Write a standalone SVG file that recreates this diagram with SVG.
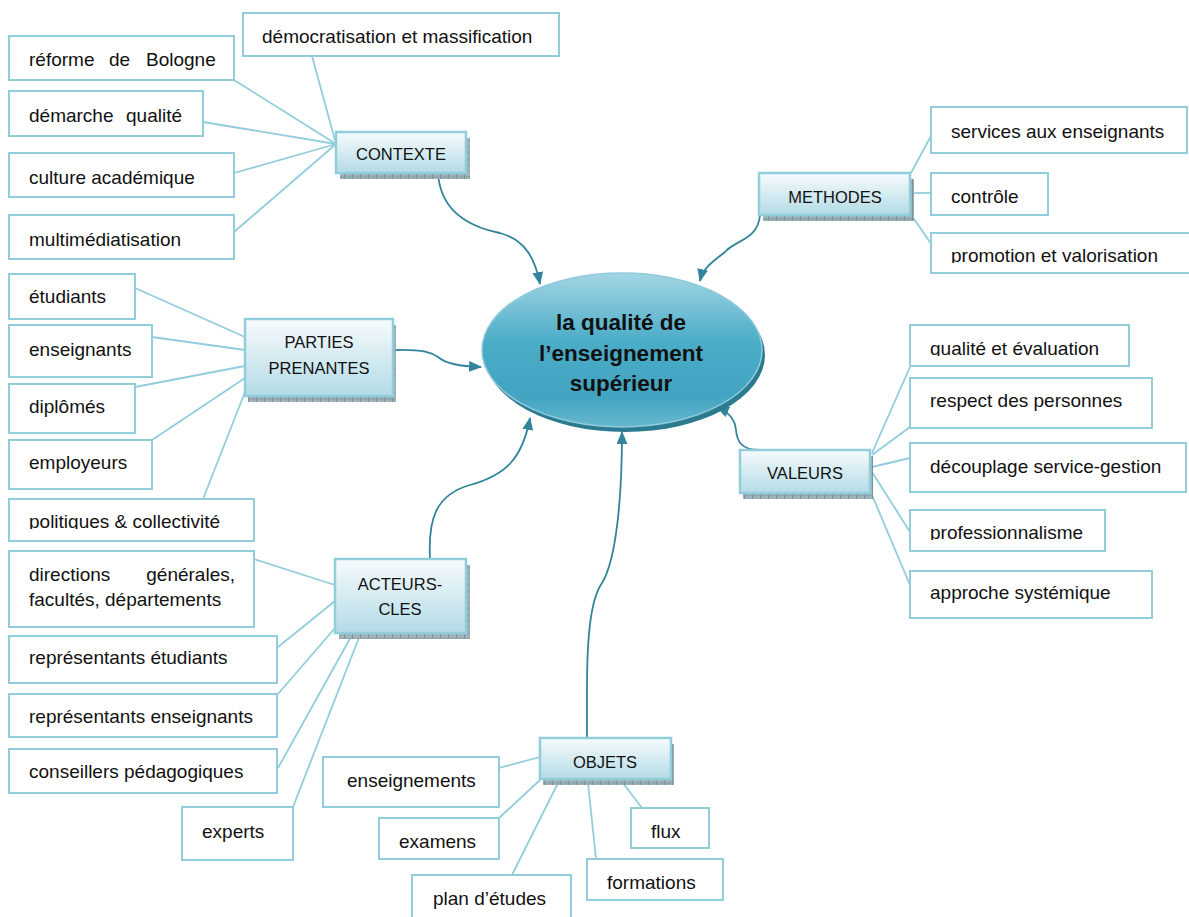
<svg xmlns="http://www.w3.org/2000/svg" width="1189" height="917" viewBox="0 0 1189 917">
<style>
.leaf rect{fill:#fff;stroke:#92cddc;stroke-width:2}
.leaf text,.cat text{font-family:"Liberation Sans",Arial,sans-serif;fill:#111}
.leaf text{font-size:19px}
.cat text{font-size:16.5px;text-anchor:middle}
.cat .box{fill:url(#catGrad);stroke:#92cddc;stroke-width:2.5}
.cat .sh{fill:url(#hatch)}
.links line{stroke:#92cddc;stroke-width:1.8}
.arrows path{fill:none;stroke:#31849b;stroke-width:1.8;marker-end:url(#ah)}
.center text{font-family:"Liberation Sans",Arial,sans-serif;font-size:22.5px;font-weight:bold;text-anchor:middle;fill:#111}
</style>
<defs>
<linearGradient id="catGrad" x1="0" y1="0" x2="0" y2="1">
<stop offset="0" stop-color="#f7fbfd"/><stop offset="1" stop-color="#b3dbe6"/>
</linearGradient>
<linearGradient id="ellGrad" x1="0" y1="0" x2="0" y2="1">
<stop offset="0" stop-color="#a3d5e4"/><stop offset="0.45" stop-color="#4aacc7"/><stop offset="0.8" stop-color="#42a4c0"/><stop offset="1" stop-color="#66b8cf"/>
</linearGradient>
<pattern id="hatch" width="8" height="6" patternUnits="userSpaceOnUse">
<rect width="8" height="6" fill="#9fb2ba"/><line x1="0" y1="0" x2="0" y2="6" stroke="#5d7a86" stroke-width="1.2"/><line x1="0" y1="3" x2="8" y2="3" stroke="#7d959f" stroke-width="0.8"/>
</pattern>
<marker id="ah" viewBox="0 0 12 10" refX="11" refY="5" markerWidth="13" markerHeight="11" orient="auto" markerUnits="userSpaceOnUse"><path d="M0,0 L12,5 L0,10 z" fill="#31849b"/></marker>
<clipPath id="c1"><rect x="0" y="0" width="1189" height="263"/></clipPath>
<clipPath id="c2"><rect x="0" y="0" width="1189" height="529"/></clipPath>
<clipPath id="c3"><rect x="0" y="0" width="1189" height="356"/></clipPath>
<clipPath id="c4"><rect x="0" y="0" width="1189" height="540"/></clipPath>
</defs>

<g id="connectors">
<g class="links">
<line x1="312" y1="56" x2="336" y2="144"/>
<line x1="234" y1="80" x2="336" y2="144"/>
<line x1="203" y1="122" x2="336" y2="144"/>
<line x1="234" y1="173" x2="336" y2="144"/>
<line x1="234" y1="232" x2="336" y2="144"/>
<line x1="911" y1="173" x2="932" y2="134"/>
<line x1="912" y1="193" x2="931" y2="193"/>
<line x1="912" y1="216" x2="932" y2="245"/>
<line x1="135" y1="288" x2="245" y2="337"/>
<line x1="152" y1="337" x2="245" y2="350"/>
<line x1="135" y1="387" x2="245" y2="366"/>
<line x1="152" y1="440" x2="245" y2="378"/>
<line x1="203" y1="499" x2="245" y2="392"/>
<line x1="254" y1="559" x2="335" y2="585"/>
<line x1="278" y1="647" x2="335" y2="601"/>
<line x1="278" y1="694" x2="335" y2="628"/>
<line x1="278" y1="768" x2="352" y2="635"/>
<line x1="293" y1="807" x2="360" y2="635"/>
<line x1="910" y1="367" x2="872" y2="453"/>
<line x1="910" y1="427" x2="872" y2="455"/>
<line x1="910" y1="458" x2="872" y2="467"/>
<line x1="910" y1="532" x2="872" y2="472"/>
<line x1="910" y1="585" x2="872" y2="495"/>
<line x1="499" y1="768" x2="540" y2="757"/>
<line x1="499" y1="818" x2="540" y2="780"/>
<line x1="512" y1="875" x2="558" y2="783"/>
<line x1="596" y1="859" x2="588" y2="783"/>
<line x1="642" y1="808" x2="623" y2="783"/>
</g>
<g class="arrows">
<path d="M438,173 C440,205 460,225 500,233 C525,240 535,258 540,284"/>
<path d="M760,215 C758,240 735,240 725,252 C712,262 703,268 700,281"/>
<path d="M393,350 C425,349 432,353 438,357 C446,364 460,366 481,367"/>
<path d="M430,559 C428,520 435,495 470,485 C505,475 522,460 530,418"/>
<path d="M587,738 L587,690 C587,640 590,600 602,583 C616,560 622,500 622,432"/>
<path d="M760,450 C740,450 737,440 736,430 C735,420 730,413 717,407"/>
</g>
</g>

<g id="center" class="center">
<ellipse cx="625" cy="355" rx="140" ry="77" fill="#2c7a90"/>
<ellipse cx="622" cy="350" rx="140" ry="77" fill="url(#ellGrad)" stroke="#8fcadb" stroke-width="1.5"/>
<text x="621" y="330">la qualité de</text>
<text x="621" y="361">l’enseignement</text>
<text x="621" y="391">supérieur</text>
</g>

<g id="contexte" class="cat"><rect class="sh" x="340" y="138" width="130" height="41"/><rect class="box" x="336" y="132" width="130" height="41"/><text x="401" y="160">CONTEXTE</text></g>
<g id="methodes" class="cat"><rect class="sh" x="763" y="179" width="151" height="42"/><rect class="box" x="759" y="173" width="151" height="42"/><text x="835" y="203">METHODES</text></g>
<g id="parties" class="cat"><rect class="sh" x="248" y="325" width="148" height="77"/><rect class="box" x="245" y="319" width="148" height="77"/><text x="319" y="348">PARTIES</text><text x="319" y="374">PRENANTES</text></g>
<g id="acteurs" class="cat"><rect class="sh" x="339" y="565" width="131" height="74"/><rect class="box" x="335" y="559" width="131" height="74"/><text x="400" y="590">ACTEURS-</text><text x="400" y="615">CLES</text></g>
<g id="valeurs" class="cat"><rect class="sh" x="743" y="456" width="130" height="43"/><rect class="box" x="740" y="450" width="130" height="43"/><text x="805" y="479">VALEURS</text></g>
<g id="objets" class="cat"><rect class="sh" x="543" y="744" width="131" height="41"/><rect class="box" x="540" y="738" width="131" height="41"/><text x="605" y="768">OBJETS</text></g>

<g id="democratisation" class="leaf"><rect x="243" y="13" width="316" height="43"/><text x="262" y="43">démocratisation et massification</text></g>
<g id="bologne" class="leaf"><rect x="9" y="36" width="225" height="44"/><text y="66"><tspan x="29">réforme</tspan><tspan x="109">de</tspan><tspan x="146">Bologne</tspan></text></g>
<g id="demarche" class="leaf"><rect x="9" y="91" width="194" height="45"/><text y="122"><tspan x="29">démarche</tspan><tspan x="126">qualité</tspan></text></g>
<g id="culture" class="leaf"><rect x="9" y="153" width="225" height="44"/><text x="29" y="184">culture académique</text></g>
<g id="multimedia" class="leaf"><rect x="9" y="215" width="225" height="44"/><text x="29" y="246">multimédiatisation</text></g>

<g id="services" class="leaf"><rect x="931" y="107" width="256" height="46"/><text x="951" y="138">services aux enseignants</text></g>
<g id="controle" class="leaf"><rect x="931" y="173" width="117" height="42"/><text x="951" y="203">contrôle</text></g>
<g id="promotion" class="leaf"><rect x="931" y="233" width="262" height="40"/><text x="951" y="262" clip-path="url(#c1)">promotion et valorisation</text></g>

<g id="etudiants" class="leaf"><rect x="9" y="274" width="126" height="45"/><text x="29" y="303">étudiants</text></g>
<g id="enseignants" class="leaf"><rect x="9" y="325" width="143" height="52"/><text x="29" y="356">enseignants</text></g>
<g id="diplomes" class="leaf"><rect x="9" y="384" width="126" height="49"/><text x="29" y="413">diplômés</text></g>
<g id="employeurs" class="leaf"><rect x="9" y="440" width="143" height="49"/><text x="29" y="469">employeurs</text></g>
<g id="politiques" class="leaf"><rect x="9" y="499" width="245" height="42"/><text x="29" y="528" clip-path="url(#c2)">politiques &amp; collectivité</text></g>

<g id="directions" class="leaf"><rect x="9" y="551" width="245" height="76"/><text y="581"><tspan x="29">directions</tspan><tspan x="235" text-anchor="end">générales,</tspan></text><text x="29" y="606">facultés, départements</text></g>
<g id="rep-etudiants" class="leaf"><rect x="9" y="636" width="268" height="47"/><text x="29" y="664">représentants étudiants</text></g>
<g id="rep-enseignants" class="leaf"><rect x="9" y="694" width="268" height="43"/><text x="29" y="723">représentants enseignants</text></g>
<g id="conseillers" class="leaf"><rect x="9" y="749" width="268" height="44"/><text x="29" y="778">conseillers pédagogiques</text></g>
<g id="experts" class="leaf"><rect x="182" y="807" width="111" height="53"/><text x="202" y="838">experts</text></g>

<g id="qualite" class="leaf"><rect x="910" y="325" width="219" height="41"/><text x="930" y="355" clip-path="url(#c3)">qualité et évaluation</text></g>
<g id="respect" class="leaf"><rect x="910" y="378" width="242" height="50"/><text x="930" y="407">respect des personnes</text></g>
<g id="decouplage" class="leaf"><rect x="910" y="443" width="276" height="49"/><text x="930" y="473">découplage service-gestion</text></g>
<g id="professionnalisme" class="leaf"><rect x="910" y="510" width="195" height="41"/><text x="930" y="539" clip-path="url(#c4)">professionnalisme</text></g>
<g id="approche" class="leaf"><rect x="910" y="571" width="242" height="47"/><text x="930" y="599">approche systémique</text></g>

<g id="enseignements" class="leaf"><rect x="323" y="757" width="176" height="50"/><text x="347" y="787">enseignements</text></g>
<g id="examens" class="leaf"><rect x="379" y="818" width="120" height="41"/><text x="399" y="848">examens</text></g>
<g id="plan" class="leaf"><rect x="412" y="875" width="159" height="45"/><text x="433" y="905">plan d’études</text></g>
<g id="flux" class="leaf"><rect x="631" y="808" width="78" height="40"/><text x="651" y="838">flux</text></g>
<g id="formations" class="leaf"><rect x="587" y="859" width="136" height="41"/><text x="607" y="889">formations</text></g>
</svg>
